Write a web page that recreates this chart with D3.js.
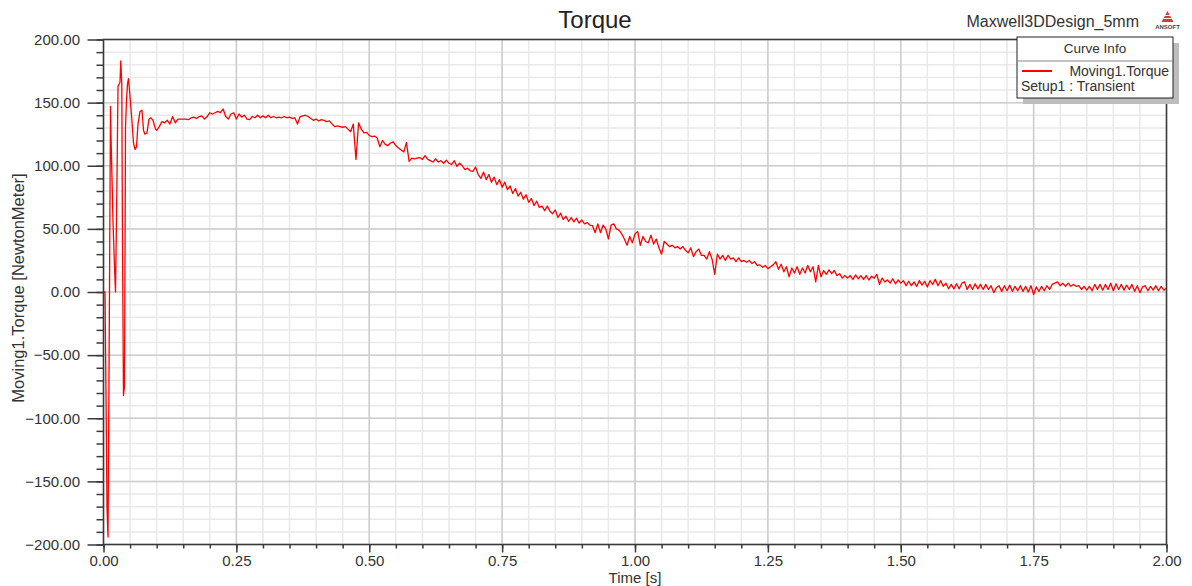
<!DOCTYPE html>
<html>
<head>
<meta charset="utf-8">
<script src="https://cdn.jsdelivr.net/npm/d3@7/dist/d3.min.js"></script>
<style>
  html, body { margin: 0; padding: 0; background: #fff; }
  svg { display: block; font-family: "Liberation Sans", Arial, sans-serif; }
</style>
</head>
<body>
<svg id="chart" width="1192" height="586"></svg>
<script>
// ---------- DATA ----------
const chartTitle = "Torque";
const designName = "Maxwell3DDesign_5mm";
const seriesName = "Moving1.Torque";
const setupName = "Setup1 : Transient";
const xLabel = "Time [s]";
const yLabel = "Moving1.Torque [NewtonMeter]";

const xMajorTicks = [0, 0.25, 0.5, 0.75, 1.0, 1.25, 1.5, 1.75, 2.0];
const yMajorTicks = [-200, -150, -100, -50, 0, 50, 100, 150, 200];

// start-up transient (s, N·m)
const earlyTime = [0, 0.0028, 0.0047, 0.0066, 0.0085, 0.0103, 0.0132, 0.0141, 0.016, 0.0179,
  0.0207, 0.0226, 0.0254, 0.0273, 0.031, 0.0325, 0.0344, 0.0357, 0.0376, 0.0395,
  0.0414, 0.0433, 0.0452, 0.047, 0.0489, 0.0508, 0.0536, 0.0564, 0.0593, 0.0621,
  0.0649, 0.0687, 0.0724, 0.0753, 0.0781, 0.0818, 0.0856, 0.0894, 0.0931, 0.0978, 0.1];
const earlyTorque = [0, 0, -80, -171, -194, -73, 147, 124, 90, 55,
  20, 0, 90, 163, 166, 183, 165, 40, -82, -75,
  130, 152, 165, 169, 160, 150, 135, 118, 113, 115,
  133, 143, 144, 128, 125, 126, 137, 138, 136, 129, 128];

// remaining samples, every 0.005 s from 0.105 s to 2.000 s
const tailStart = 0.105;
const tailStep = 0.005;
const tailTorque = [
  131, 135, 134, 136, 133, 139, 134, 137, 137, 137, 137, 136.5, 138, 138.5, 137.5, 139, 139.5, 137, 139, 142,
  141, 142, 143, 142, 145, 139, 137, 141, 142, 137, 141, 138.5, 140, 137, 136.5, 139, 138, 140, 138, 139.5,
  138, 140, 138, 139, 138, 138.5, 138, 139, 138, 138.5, 137.5, 138, 133, 139, 139.5, 140, 139, 137.5, 136, 137,
  135.5, 136.5, 136, 135, 135.5, 133, 131, 131.5, 131, 130.5, 131, 129, 127, 133, 105, 134, 129, 126, 126.5, 124,
  123, 123.5, 122, 115, 120, 117, 116, 118, 119, 116, 114, 112.5, 111, 118.5, 103.5, 106, 105.5, 106, 106.5, 105,
  108, 105, 104, 103, 105.5, 103, 104, 102, 104.5, 102, 101, 104, 99.5, 102, 100, 97, 98, 96, 95.5, 99,
  93, 90, 95, 89, 93, 87, 91, 85, 89, 83, 87, 81, 84, 78, 82, 76, 79, 73.5, 77, 71,
  74, 68.5, 72, 67, 68, 64.5, 68, 64, 62, 65, 59, 62.5, 57.5, 60, 56, 59, 55.5, 58.5, 54.5, 57,
  54, 55, 53, 52.5, 47, 54, 47, 53, 50, 42, 53, 54, 50, 49, 46, 42, 37, 44, 39, 46,
  48, 37, 44, 40, 39, 45, 38, 42, 35, 30, 40, 38, 36, 37, 35, 36, 34, 36, 33, 31,
  35, 28, 32, 34, 29, 29, 26, 32, 26, 14, 30, 26, 29, 25, 29, 26, 27, 24, 27, 24,
  25, 23.5, 25, 22.5, 24, 21, 21.5, 19.5, 21, 18.5, 20, 21.5, 24, 18, 22, 16, 20, 12, 19, 15,
  20, 14, 19, 15, 21, 16, 20, 8, 21, 12, 17, 14, 17.5, 14.5, 17, 13, 14.5, 11, 13, 11,
  13, 10, 13.5, 10.5, 13, 10, 13, 9.5, 12.5, 11, 14, 6, 11, 8, 9.5, 7, 10.5, 6.5, 9.5, 7,
  9, 5, 8.5, 5, 8, 4.5, 9, 5.5, 8.5, 4, 9, 6, 10, 5, 9, 4.5, 7, 2.5, 6, 2.5,
  6.5, 2.5, 7, 8, 2, 6, 2, 6.5, 2.5, 6, 2, 6, 2, 5, -0.5, 3.5, 5, 0.5, 5, 1,
  5.5, 0.5, 4.5, 1, 5, 0.5, 4.5, 0, 5, -2, 4, 0.5, 4.5, 1, 5, 2, 6, 7, 8, 5,
  7, 4.5, 7, 4.5, 6, 4.5, 5, 2, 4.5, 1.5, 4.5, 1, 6, 2, 6, 1.5, 6, 2, 7, 1,
  6.5, 2, 6, 1.5, 5.5, 2, 6, 0.5, 5, -0.5, 4, 5, 1, 4.5, 1.5, 5, 1, 4.5, 1.5, 3
];

// ---------- BUILD SERIES ----------
const series = earlyTime.map((t, i) => ({ t, v: earlyTorque[i] }))
  .concat(tailTorque.map((v, i) => ({ t: tailStart + i * tailStep, v })));

// ---------- LAYOUT ----------
const svg = d3.select("#chart");
const pL = 103.5, pR = 1166.5, pT = 39.5, pB = 544.5;

const x = d3.scaleLinear().domain([0, 2]).range([pL, pR]);
const y = d3.scaleLinear().domain([-200, 200]).range([pB, pT]);

const xMinor = d3.range(0, 2.0001, 0.05).map(d => +d.toFixed(2));
const yMinor = d3.range(-200, 200.001, 10);

// grid
const grid = svg.append("g");
grid.selectAll("line.vmin").data(xMinor).join("line")
  .attr("x1", d => x(d)).attr("x2", d => x(d)).attr("y1", pT).attr("y2", pB)
  .attr("stroke", "#e9e9e9").attr("stroke-width", 1.5);
grid.selectAll("line.hmin").data(yMinor).join("line")
  .attr("x1", pL).attr("x2", pR).attr("y1", d => y(d)).attr("y2", d => y(d))
  .attr("stroke", "#e9e9e9").attr("stroke-width", 1.5);
grid.selectAll("line.vmaj").data(xMajorTicks).join("line")
  .attr("x1", d => x(d)).attr("x2", d => x(d)).attr("y1", pT).attr("y2", pB)
  .attr("stroke", "#cdcdcd").attr("stroke-width", 1.5);
grid.selectAll("line.hmaj").data(yMajorTicks).join("line")
  .attr("x1", pL).attr("x2", pR).attr("y1", d => y(d)).attr("y2", d => y(d))
  .attr("stroke", "#cdcdcd").attr("stroke-width", 1.5);

// curve
svg.append("clipPath").attr("id", "plotclip").append("rect")
  .attr("x", pL).attr("y", pT - 1).attr("width", pR - pL).attr("height", pB - pT + 2);
const line = d3.line().x(d => x(d.t)).y(d => y(d.v));
svg.append("path").datum(series)
  .attr("clip-path", "url(#plotclip)")
  .attr("fill", "none").attr("stroke", "#ff0000").attr("stroke-width", 1.3)
  .attr("stroke-linejoin", "round")
  .attr("d", line);

// frame
svg.append("rect").attr("x", pL).attr("y", pT).attr("width", pR - pL).attr("height", pB - pT)
  .attr("fill", "none").attr("stroke", "#3a3a3a").attr("stroke-width", 1.5);

// axes
const tickFont = 15;
const yAxisMinor = d3.axisLeft(y).tickValues(yMinor).tickSize(7).tickFormat("");
const yAxisMajor = d3.axisLeft(y).tickValues(yMajorTicks).tickSize(16).tickPadding(7.5).tickFormat(d3.format(".2f"));
const xAxisMinor = d3.axisBottom(x).tickValues(xMinor).tickSize(4).tickFormat("");
const xAxisMajor = d3.axisBottom(x).tickValues(xMajorTicks).tickSize(8).tickPadding(3).tickFormat(d3.format(".2f"));

function styleAxis(g) {
  g.select(".domain").remove();
  g.selectAll(".tick line").attr("stroke", "#3a3a3a").attr("stroke-width", 1.5);
  g.selectAll(".tick text").attr("fill", "#333").style("font-size", tickFont + "px")
    .style("font-family", "'Liberation Sans', Arial, sans-serif");
}
svg.append("g").attr("transform", `translate(${pL},0)`).call(yAxisMinor).call(styleAxis);
svg.append("g").attr("transform", `translate(${pL},0)`).call(yAxisMajor).call(styleAxis);
svg.append("g").attr("transform", `translate(0,${pB})`).call(xAxisMinor).call(styleAxis);
svg.append("g").attr("transform", `translate(0,${pB})`).call(xAxisMajor).call(styleAxis);

// axis titles
svg.append("text").attr("x", 635).attr("y", 583).attr("text-anchor", "middle")
  .attr("fill", "#333").style("font-size", "15px").text(xLabel);
svg.append("text").attr("transform", "translate(23.5,288) rotate(-90)").attr("text-anchor", "middle")
  .attr("fill", "#333").style("font-size", "16.5px").text(yLabel);

// title
svg.append("text").attr("x", 595).attr("y", 28).attr("text-anchor", "middle")
  .attr("fill", "#222").style("font-size", "24px").text(chartTitle);
svg.append("text").attr("x", 1139).attr("y", 27).attr("text-anchor", "end")
  .attr("fill", "#333").style("font-size", "16px").text(designName);

// ANSOFT logo
const logo = svg.append("g").attr("transform", "translate(1167.5,0)");
logo.append("path").attr("d", "M0,11 L6,22 L-6,22 Z").attr("fill", "#c8403a");
logo.append("path").attr("d", "M-4,18.5 L4,18.5 M-2.5,15.5 L2.5,15.5").attr("stroke", "#fff").attr("stroke-width", 1);
logo.append("text").attr("x", 0).attr("y", 29).attr("text-anchor", "middle")
  .attr("fill", "#444").style("font-size", "6px").style("font-weight", "bold").text("ANSOFT");

// legend
const lg = svg.append("g");
const lx = 1017, ly = 37, lw = 156, lh = 61;
lg.append("rect").attr("x", lx + 6).attr("y", ly + 6).attr("width", lw).attr("height", lh).attr("fill", "#bdbdbd");
lg.append("rect").attr("x", lx).attr("y", ly).attr("width", lw).attr("height", lh)
  .attr("fill", "#fff").attr("stroke", "#222").attr("stroke-width", 1);
lg.append("line").attr("x1", lx).attr("x2", lx + lw).attr("y1", ly + 24).attr("y2", ly + 24)
  .attr("stroke", "#888").attr("stroke-width", 1);
lg.append("text").attr("x", lx + lw / 2).attr("y", ly + 16).attr("text-anchor", "middle")
  .attr("fill", "#333").style("font-size", "13.5px").text("Curve Info");
lg.append("line").attr("x1", 1022).attr("x2", 1052).attr("y1", 71).attr("y2", 71)
  .attr("stroke", "#ff0000").attr("stroke-width", 2);
lg.append("text").attr("x", 1169).attr("y", 76).attr("text-anchor", "end")
  .attr("fill", "#333").style("font-size", "14px").text(seriesName);
lg.append("text").attr("x", 1021).attr("y", 91)
  .attr("fill", "#333").style("font-size", "14px").text(setupName);
</script>
</body>
</html>
